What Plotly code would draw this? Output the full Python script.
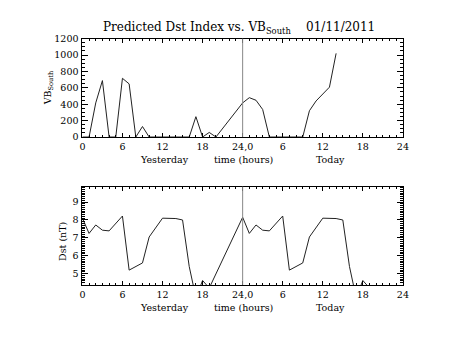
import plotly.graph_objects as go

# Hours counted from 00 UT yesterday (0-24 = yesterday, 24-48 = today)
vb_hours = [0, 1, 2, 3, 4, 5, 6, 7, 8, 9, 10, 11, 12, 13, 14, 15, 16, 17, 18, 19, 20,
            24, 25, 26, 27, 28, 29, 30, 31, 32, 33, 34, 35, 37, 38]
vb_south = [0, 0, 416, 688, 0, 0, 716, 648, 0, 128, 0, 0, 0, 0, 0, 0, 0, 248, 0, 56, 0,
            416, 480, 448, 336, 0, 0, 0, 0, 0, 0, 320, 440, 608, 1020]

dst_hours = [0, 1, 2, 3, 4, 6, 7, 9, 10, 11, 12, 14, 15, 16, 17, 18, 19,
             24, 25, 26, 27, 28, 30, 31, 33, 34, 35, 36, 38, 39, 40, 41, 42, 43]
dst_values = [8.10, 7.25, 7.72, 7.43, 7.39, 8.22, 5.20, 5.60, 7.05, 7.60, 8.10, 8.08, 8.00,
              5.40, 3.66, 4.62, 4.20,
              8.15, 7.25, 7.72, 7.43, 7.39, 8.22, 5.20, 5.60, 7.05, 7.60, 8.10, 8.08, 8.00,
              5.40, 3.66, 4.62, 4.20]

x_tickvals = [0, 6, 12, 18, 24, 30, 36, 42, 48]
x_ticktext = ["0", "6", "12", "18", "24,0", "6", "12", "18", "24"]
vb_ticks = [0, 200, 400, 600, 800, 1000, 1200]
dst_ticks = [5, 6, 7, 8, 9]

W, H = 453, 340
FONT = "DejaVu Serif"
INK = "black"
TICK_SIZE = 9.5


def px_x(p):
    return p / W


def px_y(p):
    return 1 - p / H


x_dom = [px_x(81), px_x(408)]
top_dom = [px_y(135.4), px_y(33.7)]
bot_dom = [px_y(288.3), px_y(186.7)]

fig = go.Figure()
fig.add_trace(go.Scatter(x=vb_hours, y=vb_south, mode="lines",
                         line=dict(color="#222222", width=1), xaxis="x", yaxis="y"))
fig.add_trace(go.Scatter(x=dst_hours, y=dst_values, mode="lines",
                         line=dict(color="#222222", width=1), xaxis="x2", yaxis="y2"))

xaxis_common = dict(
    domain=x_dom, range=[0, 48], tickmode="array", tickvals=x_tickvals, ticktext=x_ticktext,
    ticks="inside", ticklen=4, tickwidth=1, tickcolor=INK, ticklabelstandoff=1,
    minor=dict(tickmode="linear", tick0=0, dtick=1, ticks="inside", ticklen=2,
               tickcolor=INK, tickwidth=1, showgrid=False),
    showline=True, linecolor=INK, linewidth=1, mirror="ticks",
    showgrid=False, zeroline=False, tickfont=dict(family=FONT, size=TICK_SIZE, color=INK),
)

yaxis_common = dict(
    anchor="x", ticks="inside", ticklen=6, tickwidth=1, tickcolor=INK, tickmode="array",
    showline=True, linecolor=INK, linewidth=1, mirror="ticks", ticklabelstandoff=1,
    showgrid=False, zeroline=False, tickfont=dict(family=FONT, size=TICK_SIZE, color=INK),
)

fig.update_layout(
    width=W, height=H, margin=dict(l=0, r=0, t=0, b=0),
    paper_bgcolor="white", plot_bgcolor="white", showlegend=False,
    xaxis=dict(anchor="y", **xaxis_common),
    xaxis2=dict(anchor="y2", **xaxis_common),
    yaxis=dict(
        yaxis_common, domain=top_dom, range=[0, 1200], tickvals=vb_ticks,
        minor=dict(tickmode="linear", tick0=0, dtick=50, ticks="inside", ticklen=3,
                   tickcolor=INK, tickwidth=1, showgrid=False),
    ),
    yaxis2=dict(
        yaxis_common, domain=bot_dom, range=[4.37, 9.86], anchor="x2", tickvals=dst_ticks,
        minor=dict(tickmode="linear", tick0=0, dtick=0.1, ticks="inside", ticklen=3,
                   tickcolor=INK, tickwidth=1, showgrid=False),
    ),
)

# Day boundary marker on both panels
for xr, yr in (("x", "y domain"), ("x2", "y2 domain")):
    fig.add_shape(type="line", xref=xr, yref=yr, x0=24, x1=24, y0=0, y1=1,
                  line=dict(color="#888888", width=1))

annots = [
    dict(text="Predicted Dst Index vs. VB<sub>South</sub>    01/11/2011",
         x=px_x(241), y=px_y(23), font=dict(size=12)),
    dict(text="VB<sub>South</sub>", x=px_x(46), y=px_y(85), textangle=-90,
         font=dict(size=TICK_SIZE)),
    dict(text="Dst (nT)", x=px_x(60), y=px_y(243), textangle=-90, font=dict(size=TICK_SIZE)),
]
for yc in (159, 312):
    annots += [
        dict(text="Yesterday", x=px_x(165), y=px_y(yc), font=dict(size=TICK_SIZE)),
        dict(text="time (hours)", x=px_x(245), y=px_y(yc), font=dict(size=TICK_SIZE)),
        dict(text="Today", x=px_x(334), y=px_y(yc), font=dict(size=TICK_SIZE)),
    ]
for a in annots:
    a["font"].update(family=FONT, color=INK)
    fig.add_annotation(xref="paper", yref="paper", xanchor="center", yanchor="middle",
                       showarrow=False, **a)

fig.write_html("out.html")
